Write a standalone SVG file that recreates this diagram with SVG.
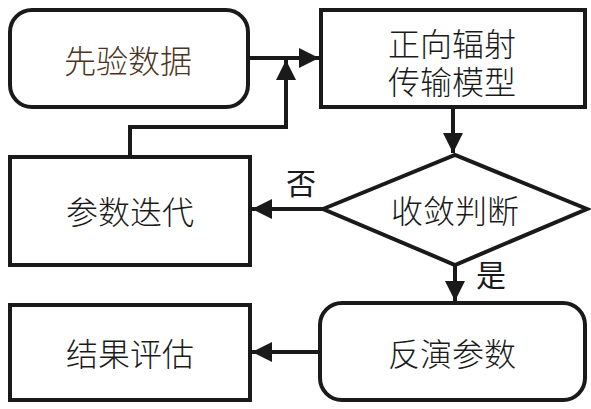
<svg xmlns="http://www.w3.org/2000/svg" width="591" height="409" viewBox="0 0 591 409">
<style>
.box{fill:#fff;stroke:#1a1a1a;stroke-width:4}
.t{font-family:"Noto Sans CJK SC","Noto Sans",sans-serif;font-size:32px;font-weight:300;fill:#1a1a1a;text-anchor:middle;dominant-baseline:central}
.l{font-family:"Noto Sans CJK SC","Noto Sans",sans-serif;font-size:30px;font-weight:400;fill:#1a1a1a;text-anchor:middle;dominant-baseline:central}
.c{fill:none;stroke:#1a1a1a;stroke-width:4}
</style>
<defs>
<marker id="ah" viewBox="0 0 10 10" refX="10" refY="5" markerWidth="5" markerHeight="5" markerUnits="strokeWidth" orient="auto">
<path d="M0,0 L10,5 L0,10 Z" fill="#1a1a1a"/>
</marker>
</defs>
<g id="n1"><rect class="box" x="10" y="10" width="238" height="97" rx="22"/><text class="t" x="128" y="59" style="fill:#4d3322">先验数据</text></g>
<g id="n2"><rect class="box" x="321" y="10" width="264" height="97"/><text class="t" x="452" y="42"><tspan x="452" y="42">正向辐射</tspan><tspan x="452" y="80">传输模型</tspan></text></g>
<g id="n3"><rect class="box" x="10" y="157" width="240" height="108"/><text class="t" x="130" y="210">参数迭代</text></g>
<g id="n4"><polygon class="box" points="323,209 455,155 587,209 455,265"/><text class="t" x="455" y="209">收敛判断</text></g>
<g id="n5"><rect class="box" x="10" y="305" width="240" height="95"/><text class="t" x="130" y="352">结果评估</text></g>
<g id="n6"><rect class="box" x="320" y="303" width="265" height="97" rx="22"/><text class="t" x="452" y="352">反演参数</text></g>
<g id="connectors">
<line class="c" x1="248" y1="58" x2="319" y2="58" marker-end="url(#ah)"/>
<polyline class="c" points="130,157 130,127 286,127 286,60" marker-end="url(#ah)"/>
<line class="c" x1="453" y1="107" x2="453" y2="153" marker-end="url(#ah)"/>
<line class="c" x1="323" y1="209" x2="252" y2="209" marker-end="url(#ah)"/>
<line class="c" x1="455" y1="265" x2="455" y2="301" marker-end="url(#ah)"/>
<line class="c" x1="320" y1="352" x2="252" y2="352" marker-end="url(#ah)"/>
<text class="l" x="301" y="181">否</text>
<text class="l" x="491" y="273">是</text>
</g>
</svg>
